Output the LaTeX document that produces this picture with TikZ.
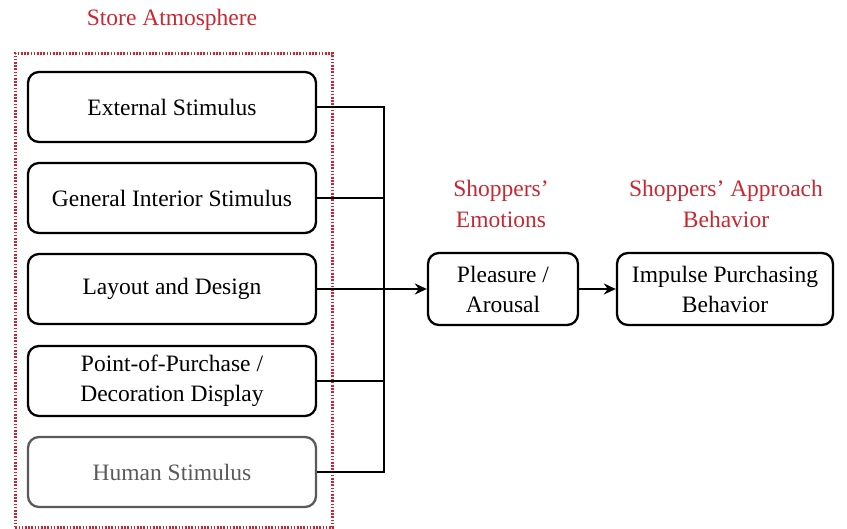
\documentclass[tikz,border=0pt]{standalone}
\usepackage{fontspec}
\setmainfont{Liberation Serif}
\usetikzlibrary{arrows.meta}
\definecolor{redtxt}{RGB}{200,40,50}
\definecolor{greybox}{RGB}{90,90,90}
\begin{document}
\begin{tikzpicture}[x=1pt,y=-1pt,
  box/.style={draw=black,line width=2.3pt,rounded corners=11pt,align=center,font=\fontsize{23.5}{30}\selectfont,inner sep=0pt},
  lbl/.style={text=redtxt,align=center,font=\fontsize{23.5}{31}\selectfont},
  conn/.style={line width=2.3pt},
  arr/.style={line width=2.3pt,-{Stealth[length=12pt,width=11pt]}}]
\useasboundingbox (0,0) rectangle (847,529);
\node[draw=redtxt,line width=2.6pt,dash pattern=on 1.6pt off 1.6pt,minimum width=317pt,minimum height=474pt,anchor=north west] (sa) at (14,52) {};
\node[lbl] (satxt) at (172,20) {Store Atmosphere};
\node[box,minimum width=288pt,minimum height=70pt] (b1) at (172,107) {External Stimulus};
\node[box,minimum width=288pt,minimum height=70pt] (b2) at (172,198) {General Interior Stimulus};
\node[box,minimum width=288pt,minimum height=70pt] (b3) at (172,289) {Layout and Design};
\node[box,minimum width=288pt,minimum height=70pt] (b4) at (172,381) {Point-of-Purchase /\\Decoration Display};
\node[box,draw=greybox,text=greybox,minimum width=288pt,minimum height=70pt] (b5) at (172,472) {Human Stimulus};
\coordinate (t1) at (384,107);
\coordinate (t5) at (384,472);
\node[box,minimum width=150pt,minimum height=72pt] (pa) at (503,289) {Pleasure /\\Arousal};
\node[box,minimum width=216pt,minimum height=72pt] (ip) at (725,289) {Impulse Purchasing\\Behavior};
\node[lbl] (se) at (501,204) {Shoppers'\\Emotions};
\node[lbl] (sab) at (726,204) {Shoppers' Approach\\Behavior};
\draw[conn] (b1.east) -- (t1) -- (t5) -- (b5.east);
\draw[conn] (b2.east) -- (b2.east -| t1);
\draw[conn] (b4.east) -- (b4.east -| t1);
\draw[arr] (b3.east) -- (pa.west);
\draw[arr] (pa.east) -- (ip.west);
\end{tikzpicture}
\end{document}
